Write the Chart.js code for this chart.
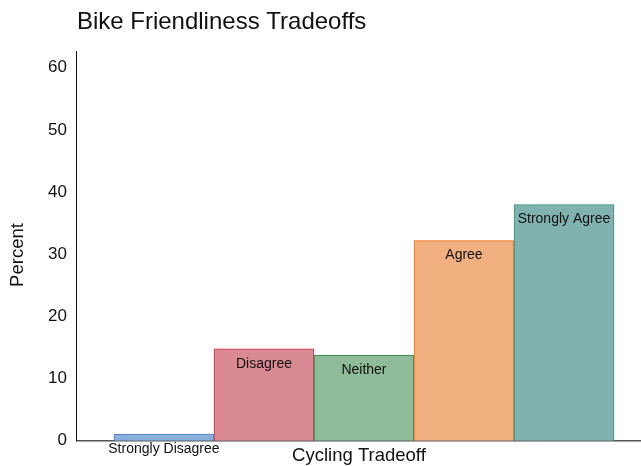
<!DOCTYPE html>
<html>
<head>
<meta charset="utf-8">
<script src="https://cdn.jsdelivr.net/npm/chart.js@4/dist/chart.umd.min.js"></script>
<style>
  html, body { margin: 0; padding: 0; background: #fff; }
  #wrap { width: 641px; height: 466px; position: relative; }
</style>
</head>
<body>
<div id="wrap"><canvas id="tradeoff_chart"></canvas></div>
<script>
const categories = ['Strongly Disagree', 'Disagree', 'Neither', 'Agree', 'Strongly Agree'];
const percents = [1.1, 14.8, 13.8, 32.2, 38.0];
const y_ticks = [0, 10, 20, 30, 40, 50, 60];
const chart_title = 'Bike Friendliness Tradeoffs';
const y_title = 'Percent';

const fill_colors = ['#8aaedb', '#d98a93', '#8fbc98', '#f2b081', '#80b3b0'];
const border_colors = ['#4a7fc0', '#c8323f', '#2e7d45', '#ee6a10', '#3a8c84'];

const font_family = '"Liberation Sans", Arial, Helvetica, sans-serif';

// title flush with the y axis line, y title centred on the canvas height
const side_titles = {
    id: 'side_titles',
    afterDraw(chart) {
        const ctx = chart.ctx;
        ctx.save();
        ctx.fillStyle = '#111';
        ctx.textBaseline = 'middle';
        ctx.font = '24px ' + font_family;
        ctx.textAlign = 'left';
        ctx.fillText(chart_title, chart.chartArea.left, 22);

        ctx.font = '18.5px ' + font_family;
        ctx.textAlign = 'center';
        ctx.translate(18, 255);
        ctx.rotate(-Math.PI / 2);
        ctx.fillText(y_title, 0, 0);
        ctx.restore();
    }
};

// labels drawn inside the top of each bar (below the axis when the bar is too short)
const bar_labels = {
    id: 'bar_labels',
    afterDatasetsDraw(chart) {
        const ctx = chart.ctx;
        const meta = chart.getDatasetMeta(0);
        ctx.save();
        ctx.font = '14px ' + font_family;
        ctx.fillStyle = '#111';
        ctx.textAlign = 'center';
        ctx.textBaseline = 'middle';
        meta.data.forEach(function (bar, i) {
            let y = bar.y + 15;
            if (bar.base - bar.y < 20) {
                y = bar.base + 8;
            }
            ctx.fillText(categories[i], bar.x, y);
        });
        ctx.restore();
    }
};

const chart_data = {
    datasets: [{
        label: 'Percent',
        data: percents.map(function (v, i) { return { x: i, y: v }; }),
        backgroundColor: fill_colors,
        borderColor: border_colors,
        borderWidth: 1,
        barPercentage: 1.0,
        categoryPercentage: 1.0,
    }]
};

const chart_config = {
    type: 'bar',
    data: chart_data,
    plugins: [bar_labels, side_titles],
    options: {
        responsive: true,
        maintainAspectRatio: false,
        animation: false,
        layout: { padding: { top: 51, right: 0, bottom: -1, left: 38 } },
        plugins: {
            legend: { display: false },
            tooltip: { enabled: false },
            title: { display: false },
        },
        scales: {
            x: {
                type: 'linear',
                min: -0.87,
                max: 4.77,
                offset: false,
                afterBuildTicks: function (axis) {
                    axis.ticks = categories.map(function (c, i) { return { value: i }; });
                },
                grid: { display: false, drawTicks: false },
                border: { display: true, color: '#555', width: 1.5 },
                ticks: { display: false },
                title: {
                    display: true,
                    text: 'Cycling Tradeoff',
                    color: '#111',
                    font: { family: font_family, size: 18.5 },
                    padding: { top: 4, bottom: 0 },
                },
            },
            y: {
                min: 0,
                max: 62.7,
                afterBuildTicks: function (axis) {
                    axis.ticks = y_ticks.map(function (v) { return { value: v }; });
                },
                grid: { display: false, drawTicks: false },
                border: { display: true, color: '#111', width: 1 },
                ticks: {
                    color: '#111',
                    padding: 10,
                    font: { family: font_family, size: 17 },
                },
                title: { display: false },
            },
        },
    },
};

const chart = new Chart(document.getElementById('tradeoff_chart'), chart_config);
</script>
</body>
</html>
